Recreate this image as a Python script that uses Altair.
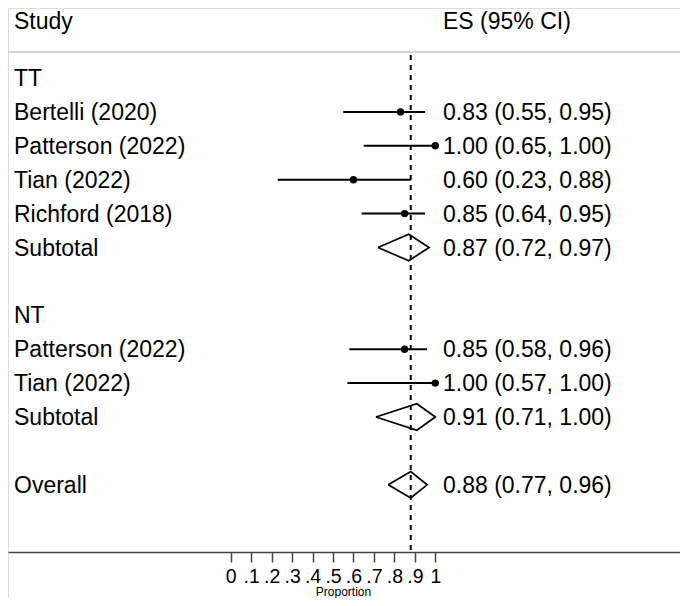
import altair as alt
import pandas as pd

# ---- data ----
study = ["Bertelli (2020)", "Patterson (2022)", "Tian (2022)", "Richford (2018)",
         "Patterson (2022)", "Tian (2022)"]
study_group = ["TT", "TT", "TT", "TT", "NT", "NT"]
es = [0.83, 1.00, 0.60, 0.85, 0.85, 1.00]
lo = [0.55, 0.65, 0.23, 0.64, 0.58, 0.57]
hi = [0.95, 1.00, 0.88, 0.95, 0.96, 1.00]

groups = ["TT", "NT"]
sub_es = [0.87, 0.91]
sub_lo = [0.72, 0.71]
sub_hi = [0.97, 1.00]

overall_es = 0.88
overall_lo = 0.77
overall_hi = 0.96

tick_values = [0, 0.1, 0.2, 0.3, 0.4, 0.5, 0.6, 0.7, 0.8, 0.9, 1.0]
tick_labels = ["0", ".1", ".2", ".3", ".4", ".5", ".6", ".7", ".8", ".9", "1"]

header_study = "Study"
header_es = "ES (95% CI)"
x_title = "Proportion"


def fmt(e, l, h):
    return f"{e:.2f} ({l:.2f}, {h:.2f})"


# ---- build row layout ----
rows, studies, diamonds = [], [], []
r = 0
for gi, g in enumerate(groups):
    rows.append(dict(row=r, label=g, es_text=""))
    r += 1
    for s, gg, e, l, h in zip(study, study_group, es, lo, hi):
        if gg != g:
            continue
        rows.append(dict(row=r, label=s, es_text=fmt(e, l, h)))
        studies.append(dict(row=r, es=e, lo=l, hi=h))
        r += 1
    rows.append(dict(row=r, label="Subtotal", es_text=fmt(sub_es[gi], sub_lo[gi], sub_hi[gi])))
    diamonds.append((g, r, sub_es[gi], sub_lo[gi], sub_hi[gi]))
    r += 2
rows.append(dict(row=r, label="Overall", es_text=fmt(overall_es, overall_lo, overall_hi)))
diamonds.append(("Overall", r, overall_es, overall_lo, overall_hi))

hh = 0.39
dverts = []
for name, rr, e, l, h in diamonds:
    pts = [(l, rr), (e, rr - hh), (h, rr), (e, rr + hh), (l, rr)]
    for k, (xv, yv) in enumerate(pts):
        dverts.append(dict(id=name, order=k, x=xv, y=yv))

rows_df = pd.DataFrame(rows)
studies_df = pd.DataFrame(studies)
diam_df = pd.DataFrame(dverts)

W, H = 672, 590
xs = alt.Scale(domain=[-1.0885, 2.196], nice=False, zero=False)
ys = alt.Scale(domain=[-2.065, 15.339], reverse=True, nice=False, zero=False)

label_expr = "[" + ",".join(f"'{t}'" for t in tick_labels) + "][round(datum.value*10)]"

x_axis = alt.Axis(
    values=tick_values, labelExpr=label_expr, labelOverlap=False, labelFlush=False,
    grid=False, offset=-46, tickSize=10, tickColor="#444444", tickWidth=1.5,
    domainColor="#444444", domainWidth=1.7, labelFontSize=19.5, labelColor="black",
    labelPadding=5, labelFont="Liberation Sans", title=x_title, titleFontSize=12,
    titleFontWeight="normal", titleColor="black", titleFont="Liberation Sans",
    titleX=335, titleY=43, titleBaseline="alphabetic", titleAlign="center",
)

ci = alt.Chart(studies_df).mark_rule(color="black", strokeWidth=2).encode(
    x=alt.X("lo:Q", scale=xs, axis=x_axis),
    x2="hi:Q",
    y=alt.Y("row:Q", scale=ys, axis=None),
)

pts = alt.Chart(studies_df).mark_point(filled=True, color="black", size=55, opacity=1).encode(
    x=alt.X("es:Q", scale=xs, axis=x_axis),
    y=alt.Y("row:Q", scale=ys, axis=None),
)

diam = alt.Chart(diam_df).mark_line(color="black", strokeWidth=1.7).encode(
    x=alt.X("x:Q", scale=xs, axis=x_axis),
    y=alt.Y("y:Q", scale=ys, axis=None),
    detail="id:N",
    order="order:Q",
)

dash = alt.Chart(pd.DataFrame({"es": [overall_es]})).mark_rule(
    color="black", strokeWidth=2, strokeDash=[5, 5]
).encode(
    x=alt.X("es:Q", scale=xs, axis=x_axis),
    y=alt.value(47),
    y2=alt.value(544),
)

top_rule = alt.Chart(pd.DataFrame({"a": [0]})).mark_rect(
    fill="#c4c4c4", strokeWidth=0
).encode(x=alt.value(0), x2=alt.value(W), y=alt.value(43.2), y2=alt.value(44.8))

lab = alt.Chart(rows_df).mark_text(
    align="left", baseline="middle", fontSize=23, dy=1, color="black", font="Liberation Sans"
).encode(x=alt.value(6), y=alt.Y("row:Q", scale=ys, axis=None), text="label:N")

est = alt.Chart(rows_df).mark_text(
    align="left", baseline="middle", fontSize=23, dy=1, color="black", font="Liberation Sans"
).encode(x=alt.value(435), y=alt.Y("row:Q", scale=ys, axis=None), text="es_text:N")

hdr1 = alt.Chart(pd.DataFrame({"t": [header_study]})).mark_text(
    align="left", baseline="top", fontSize=23, color="black", font="Liberation Sans"
).encode(x=alt.value(6), y=alt.value(3), text="t:N")

hdr2 = alt.Chart(pd.DataFrame({"t": [header_es]})).mark_text(
    align="left", baseline="top", fontSize=23, color="black", font="Liberation Sans"
).encode(x=alt.value(435), y=alt.value(3), text="t:N")

chart = alt.layer(
    top_rule, dash, ci, pts, diam, lab, est, hdr1, hdr2
).properties(
    width=W, height=H, padding=0,
    autosize=alt.AutoSizeParams(type="none"),
).configure_view(stroke=None).configure(font="Liberation Sans", background="white")

chart.save("out.html", embed_options={"renderer": "svg", "actions": False})
